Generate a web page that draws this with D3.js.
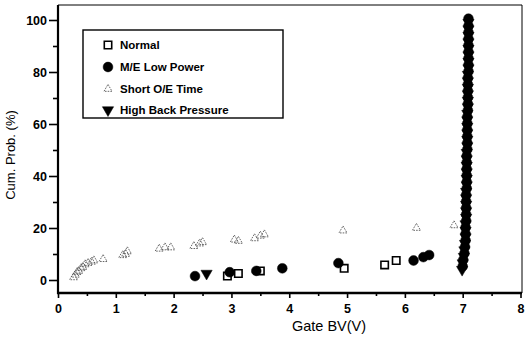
<!DOCTYPE html>
<html>
<head>
<meta charset="utf-8">
<script src="https://cdn.jsdelivr.net/npm/d3@7"></script>
<style>
  body { margin: 0; background: #fff; }
  svg { display: block; font-family: "Liberation Sans", Arial, sans-serif; }
</style>
</head>
<body>
<svg id="chart" width="527" height="337"></svg>
<script>
/*jslint browser, white */
/*global d3 */

//Breakdown voltage data (x: Gate BV in V, y: cum. prob. %)
var normal = [[2.93, 1.5], [3.12, 2.5], [3.5, 3.5], [4.95, 4.5],
              [5.65, 5.8], [5.85, 7.5]];
var meLowPower = [[2.37, 1.5], [2.97, 3], [3.43, 3.5], [3.88, 4.5],
                  [4.85, 6.5], [6.15, 7.5], [6.32, 8.8], [6.42, 9.6],
                  [7.0, 5.25], [7.01, 7.75], [7.03, 10.25], [7.04, 12.75],
                  [7.05, 15.25], [7.05, 17.75], [7.05, 20.25], [7.06, 22.75],
                  [7.06, 25.25], [7.06, 27.75], [7.06, 30.25], [7.06, 32.75],
                  [7.07, 35.25], [7.07, 37.75], [7.07, 40.25], [7.07, 42.75],
                  [7.07, 45.25], [7.07, 47.75], [7.08, 50.25], [7.08, 52.75],
                  [7.08, 55.25], [7.08, 57.75], [7.08, 60.25], [7.08, 62.75],
                  [7.09, 65.25], [7.09, 67.75], [7.09, 70.25], [7.09, 72.75],
                  [7.09, 75.25], [7.09, 77.75], [7.1, 80.25], [7.1, 82.75],
                  [7.1, 85.25], [7.1, 87.75], [7.1, 90.25], [7.1, 92.75],
                  [7.1, 95.25], [7.1, 97.75], [7.1, 100.5]];
var shortOE = [[0.27, 1], [0.3, 2], [0.33, 3], [0.36, 3.5], [0.4, 4.5],
               [0.43, 5], [0.47, 6], [0.52, 6.5], [0.58, 7], [0.62, 7.5],
               [0.78, 8], [1.12, 9.5], [1.17, 10], [1.2, 11], [1.75, 12],
               [1.85, 12.5], [1.95, 12.5], [2.35, 13], [2.45, 14], [2.5, 14.5],
               [3.05, 15.5], [3.12, 15], [3.4, 16], [3.5, 17], [3.57, 17.5],
               [4.93, 19], [6.2, 20], [6.85, 21]];
var highBack = [[2.57, 2.5],
                [6.99, 4], [7.0, 6.5], [7.02, 9], [7.03, 11.5], [7.04, 14],
                [7.05, 16.5], [7.05, 19], [7.05, 21.5], [7.06, 24], [7.06, 26.5],
                [7.06, 29], [7.06, 31.5], [7.06, 34], [7.07, 36.5], [7.07, 39],
                [7.07, 41.5], [7.07, 44], [7.07, 46.5], [7.07, 49], [7.08, 51.5],
                [7.08, 54], [7.08, 56.5], [7.08, 59], [7.08, 61.5], [7.08, 64],
                [7.09, 66.5], [7.09, 69], [7.09, 71.5], [7.09, 74], [7.09, 76.5],
                [7.09, 79], [7.1, 81.5], [7.1, 84], [7.1, 86.5], [7.1, 89],
                [7.1, 91.5], [7.1, 94], [7.1, 96.5], [7.1, 99]];

var xMajor = [0, 1, 2, 3, 4, 5, 6, 7, 8];
var xMinor = [0.5, 1.5, 2.5, 3.5, 4.5, 5.5, 6.5, 7.5];
var yMajor = [0, 20, 40, 60, 80, 100];
var yMinor = [10, 30, 50, 70, 90];
var legendLabels = ["Normal", "M/E Low Power", "Short O/E Time", "High Back Pressure"];

(function () {
    "use strict";

    var svg = d3.select("#chart"),
        x = d3.scaleLinear().domain([0, 8]).range([58, 520.5]),
        y = d3.scaleLinear().domain([0, 100]).range([280, 20]),
        frame = {l: 58, r: 522, t: 5, b: 293},
        styles;

    //marker styles, one per series, shared with the legend
    styles = [
        {sym: d3.symbolSquare, size: 55, fill: "#fff", stroke: "#000", sw: 1.6, rot: 0},
        {sym: d3.symbolCircle, size: 75, fill: "#000", stroke: "#000", sw: 0.5, rot: 0},
        {sym: d3.symbolTriangle, size: 28, fill: "none", stroke: "#555", sw: 0.9,
         rot: 0, dash: "1.6,1.1"},
        {sym: d3.symbolTriangle, size: 55, fill: "#000", stroke: "#000", sw: 0.5, rot: 180}
    ];

    function drawMarker (g, st, px, py) {
        var m = g.append("path")
            .attr("d", d3.symbol().type(st.sym).size(st.size)())
            .attr("transform", "translate(" + px + "," + py + ") rotate(" + st.rot + ")")
            .attr("fill", st.fill)
            .attr("stroke", st.stroke)
            .attr("stroke-width", st.sw);
        if(st.dash) {
            m.attr("stroke-dasharray", st.dash); }
        return m;
    }

    function drawSeries (data, st) {
        var g = svg.append("g");
        data.forEach(function (d) {
            drawMarker(g, st, x(d[0]), y(d[1])); });
    }

    function drawAxes () {
        var gx, gy, gxm, gym;
        gx = svg.append("g")
            .attr("transform", "translate(0," + frame.b + ")")
            .call(d3.axisBottom(x).tickValues(xMajor).tickSize(5).tickPadding(4)
                  .tickFormat(d3.format("d")));
        gxm = svg.append("g")
            .attr("transform", "translate(0," + frame.b + ")")
            .call(d3.axisBottom(x).tickValues(xMinor).tickSize(3).tickFormat(""));
        gy = svg.append("g")
            .attr("transform", "translate(" + frame.l + ",0)")
            .call(d3.axisLeft(y).tickValues(yMajor).tickSize(9).tickPadding(2)
                  .tickFormat(d3.format("d")));
        gym = svg.append("g")
            .attr("transform", "translate(" + frame.l + ",0)")
            .call(d3.axisLeft(y).tickValues(yMinor).tickSize(5).tickFormat(""));
        [gx, gxm, gy, gym].forEach(function (g) {
            g.select(".domain").remove();
            g.selectAll(".tick line").attr("stroke", "#000").attr("stroke-width", 1.6); });
        [gx, gy].forEach(function (g) {
            g.selectAll(".tick text")
                .attr("fill", "#000")
                .attr("font-size", 12.5)
                .attr("font-weight", "bold")
                .attr("font-family", "'Liberation Sans', Arial, sans-serif"); });
        gx.selectAll(".tick text").attr("dy", "0.9em");
    }

    function drawFrame () {
        svg.append("line").attr("x1", frame.l).attr("x2", frame.r)
            .attr("y1", frame.t).attr("y2", frame.t)
            .attr("stroke", "#000").attr("stroke-width", 1);
        svg.append("line").attr("x1", frame.r).attr("x2", frame.r)
            .attr("y1", frame.t).attr("y2", frame.b)
            .attr("stroke", "#000").attr("stroke-width", 1);
        svg.append("line").attr("x1", frame.l).attr("x2", frame.l)
            .attr("y1", frame.t).attr("y2", frame.b + 1)
            .attr("stroke", "#000").attr("stroke-width", 2.2);
        svg.append("line").attr("x1", frame.l - 1).attr("x2", frame.r)
            .attr("y1", frame.b).attr("y2", frame.b)
            .attr("stroke", "#000").attr("stroke-width", 2.4);
    }

    function drawLabels () {
        svg.append("text")
            .attr("x", 329).attr("y", 331)
            .attr("text-anchor", "middle")
            .attr("font-size", 14.5)
            .text("Gate BV(V)");
        svg.append("text")
            .attr("transform", "translate(15,155) rotate(-90)")
            .attr("text-anchor", "middle")
            .attr("font-size", 13)
            .text("Cum. Prob. (%)");
    }

    function drawLegend () {
        var g = svg.append("g"), rows = [45, 67, 89, 110];
        g.append("rect")
            .attr("x", 83).attr("y", 30).attr("width", 200).attr("height", 88)
            .attr("fill", "#fff").attr("stroke", "#000").attr("stroke-width", 1.4);
        legendLabels.forEach(function (lab, i) {
            drawMarker(g, styles[i], 108, rows[i]);
            g.append("text")
                .attr("x", 120).attr("y", rows[i])
                .attr("dy", "0.36em")
                .attr("font-size", 11.5)
                .attr("font-weight", "bold")
                .text(lab); });
    }

    drawLegend();
    drawSeries(shortOE, styles[2]);
    drawSeries(normal, styles[0]);
    drawSeries(highBack, styles[3]);
    drawSeries(meLowPower, styles[1]);
    drawAxes();
    drawFrame();
    drawLabels();
}());
</script>
</body>
</html>
